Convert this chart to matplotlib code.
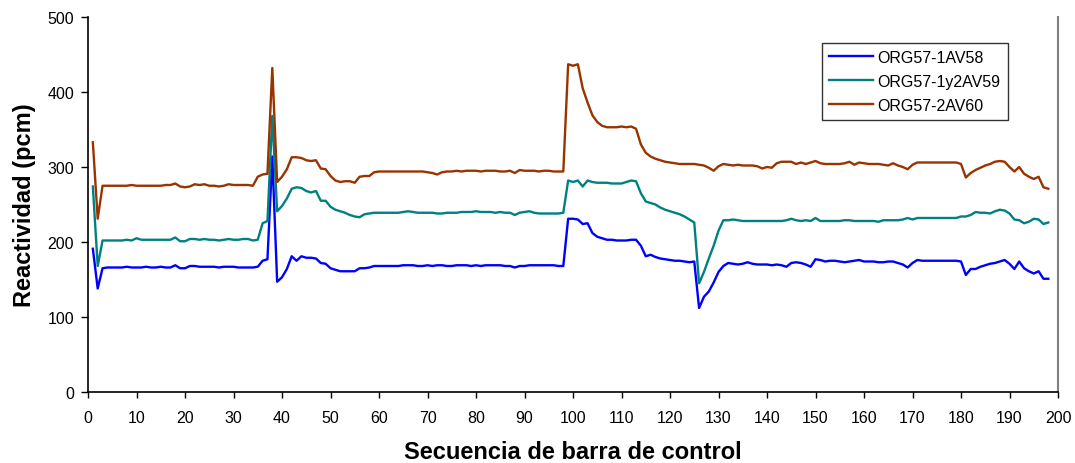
import matplotlib
matplotlib.use("Agg")
import matplotlib.pyplot as plt

# ---- data ----
x_vals = list(range(1, 199))

org58 = [
    191, 138, 165, 166, 166, 166, 166, 167, 166, 166,
    166, 167, 166, 166, 167, 166, 166, 169, 165, 165,
    168, 168, 167, 167, 167, 167, 166, 167, 167, 167,
    166, 166, 166, 166, 167, 175, 177, 314, 147, 153,
    164, 181, 175, 181, 179, 179, 178, 172, 171, 165,
    163, 161, 161, 161, 161, 165, 165, 166, 168, 168,
    168, 168, 168, 168, 169, 169, 169, 168, 168, 169,
    168, 169, 169, 168, 168, 169, 169, 169, 168, 169,
    168, 169, 169, 169, 169, 168, 168, 166, 168, 168,
    169, 169, 169, 169, 169, 169, 168, 168, 231, 231,
    230, 224, 225, 212, 207, 205, 203, 203, 202, 202,
    202, 203, 203, 195, 181, 183, 180, 178, 177, 176,
    175, 175, 174, 173, 174, 112, 127, 134, 146, 160,
    168, 172, 171, 170, 171, 173, 171, 170, 170, 170,
    169, 170, 169, 167, 172, 173, 172, 170, 167, 177,
    176, 174, 175, 175, 174, 173, 174, 175, 176, 174,
    174, 174, 173, 173, 174, 174, 172, 170, 166, 172,
    176, 175, 175, 175, 175, 175, 175, 175, 175, 174,
    156, 164, 164, 167, 169, 171, 172, 174, 176, 171,
    164, 174, 165, 161, 158, 161, 151, 151,
]

org59 = [
    274, 168, 202, 202, 202, 202, 202, 203, 202, 205,
    203, 203, 203, 203, 203, 203, 203, 206, 201, 201,
    204, 204, 203, 204, 203, 203, 202, 203, 204, 203,
    203, 204, 204, 202, 203, 225, 228, 368, 241, 248,
    258, 271, 273, 272, 268, 266, 268, 255, 255, 247,
    243, 241, 239, 236, 234, 233, 237, 238, 239, 239,
    239, 239, 239, 239, 240, 241, 240, 239, 239, 239,
    239, 238, 238, 239, 239, 239, 240, 240, 240, 241,
    240, 240, 240, 239, 240, 239, 239, 236, 239, 240,
    241, 239, 238, 238, 238, 238, 238, 239, 282, 280,
    282, 274, 282, 280, 279, 279, 279, 278, 278, 278,
    280, 282, 281, 265, 254, 252, 250, 246, 243, 241,
    239, 237, 234, 230, 226, 145, 160, 178, 195, 215,
    229, 229, 230, 229, 228, 228, 228, 228, 228, 228,
    228, 228, 228, 229, 231, 229, 228, 229, 228, 232,
    228, 228, 228, 228, 228, 229, 229, 228, 228, 228,
    228, 228, 227, 229, 229, 229, 229, 230, 232, 230,
    232, 232, 232, 232, 232, 232, 232, 232, 232, 234,
    234, 236, 240, 239, 239, 238, 241, 243, 242, 238,
    230, 229, 225, 227, 231, 230, 224, 226,
]

org60 = [
    333, 231, 275, 275, 275, 275, 275, 275, 276, 275,
    275, 275, 275, 275, 275, 276, 276, 278, 274, 273,
    274, 277, 276, 277, 275, 275, 274, 275, 277, 276,
    276, 276, 276, 275, 287, 290, 291, 432, 280, 287,
    297, 313, 313, 312, 309, 308, 309, 298, 297, 288,
    282, 280, 281, 281, 279, 287, 288, 288, 293, 294,
    294, 294, 294, 294, 294, 294, 294, 294, 294, 293,
    292, 290, 293, 294, 294, 295, 294, 295, 295, 295,
    294, 295, 295, 295, 294, 294, 295, 292, 296, 295,
    295, 295, 294, 295, 295, 294, 294, 294, 437, 435,
    437, 405, 386, 369, 360, 355, 353, 353, 353, 354,
    353, 354, 351, 330, 319, 314, 311, 309, 307, 306,
    305, 304, 304, 304, 304, 303, 302, 299, 295, 301,
    304, 303, 302, 303, 302, 302, 302, 301, 298, 300,
    299, 305, 307, 307, 307, 304, 306, 304, 306, 308,
    305, 304, 304, 304, 304, 305, 307, 303, 306, 305,
    304, 304, 304, 303, 302, 305, 302, 300, 297, 303,
    306, 306, 306, 306, 306, 306, 306, 306, 306, 304,
    286, 292, 296, 299, 302, 304, 307, 308, 307, 300,
    294, 300, 291, 287, 284, 287, 273, 271,
]

labels = ["ORG57-1AV58", "ORG57-1y2AV59", "ORG57-2AV60"]
colors = ["#0000FF", "#008080", "#993300"]

plt.rcParams["font.family"] = ["Liberation Sans", "DejaVu Sans"]

fig = plt.figure(figsize=(10.75, 4.64), dpi=100)
ax = fig.add_axes([88 / 1075, 1 - 393 / 464, 970 / 1075, 375 / 464])

for series, lab, col in zip([org58, org59, org60], labels, colors):
    ax.plot(x_vals, series, color=col, lw=1.7, label=lab)

ax.set_xlim(0, 200)
ax.set_ylim(0, 500)
ax.set_xticks(range(0, 201, 10))
ax.set_yticks(range(0, 501, 100))
ax.tick_params(labelsize=11.5, width=1, direction="out")
ax.tick_params(axis="x", length=4, pad=9)
ax.tick_params(axis="y", length=5, pad=5)

ax.spines["top"].set_visible(False)
ax.spines["right"].set_color("#808080")
ax.spines["right"].set_linewidth(1.5)
ax.spines["left"].set_linewidth(1.2)
ax.spines["bottom"].set_linewidth(1.2)

ax.set_xlabel("Secuencia de barra de control", fontsize=17, fontweight="bold", labelpad=11)
ax.set_ylabel("Reactividad (pcm)", fontsize=17, fontweight="bold", labelpad=8)

leg = ax.legend(loc="upper right", bbox_to_anchor=(0.948, 0.931), fontsize=11.5,
                frameon=True, fancybox=False, edgecolor="black",
                handlelength=2.7, handletextpad=0.3, borderpad=0.45,
                labelspacing=0.55, borderaxespad=0)
leg.get_frame().set_linewidth(1.0)

fig.savefig("out.png", dpi=100)
